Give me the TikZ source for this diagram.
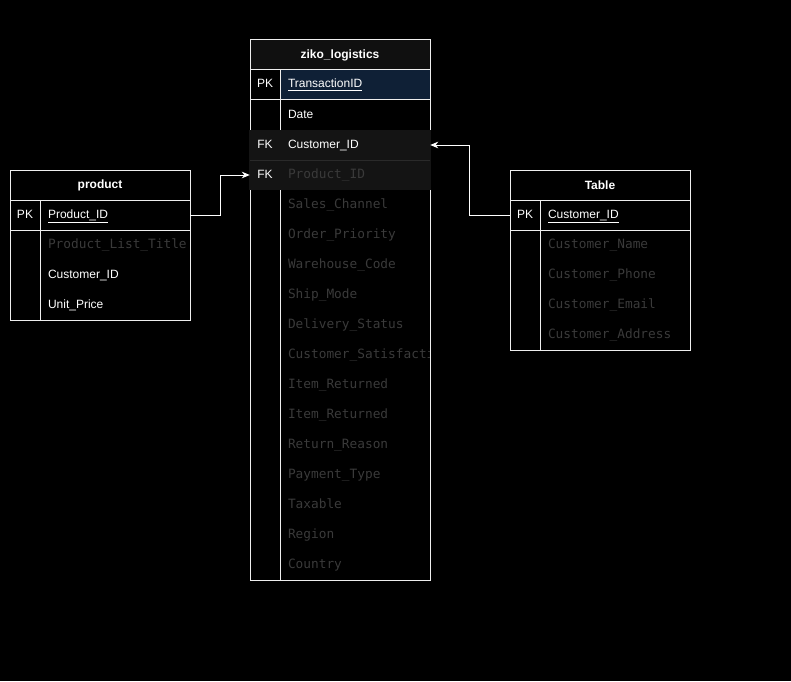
\documentclass[tikz,border=0pt]{standalone}
\usepackage{fontspec}
\setmainfont{Liberation Sans}
\newfontfamily\codefont{DejaVu Sans Mono}
\usetikzlibrary{arrows.meta}
\definecolor{linecol}{HTML}{EEEEEE}
\definecolor{dimtext}{HTML}{3A3A3A}
\definecolor{pkfill}{HTML}{0F2036}
\definecolor{fkfill}{HTML}{141414}
\definecolor{fkline}{HTML}{2A2A2A}
\definecolor{headfill}{HTML}{101010}
\tikzset{
  tbl/.style={draw=linecol, line width=0.75pt},
  hdr/.style={inner sep=0pt, font=\bfseries\fontsize{9pt}{11pt}\selectfont, text=white},
  keycell/.style={inner sep=0pt, minimum width=22.5pt, minimum height=22.5pt,
    text height=6.5pt, text depth=2pt,
    font=\fontsize{9pt}{11pt}\selectfont, text=white},
  fieldcell/.style={inner xsep=6pt, inner ysep=0pt, text width=100.5pt,
    minimum height=22.5pt, align=left, text=white,
    text height=6.5pt, text depth=2pt,
    font=\fontsize{9pt}{11pt}\selectfont},
  dimcell/.style={fieldcell, text=dimtext, font=\codefont\fontsize{9.6pt}{11pt}\selectfont},
  link/.style={draw=white, line width=0.75pt, -{Stealth[length=6pt,width=5pt]}},
}
\begin{document}
\begin{tikzpicture}[x=0.75pt,y=-0.75pt]
\fill[black] (0,0) rectangle (791,681);
\useasboundingbox (0,0) rectangle (791,681);

% ---------- ziko_logistics ----------
\fill[headfill] (250,40) rectangle (430,70);
\fill[pkfill] (280,70) rectangle (430,100);
\draw[tbl] (250,40) rectangle (430,580);
\draw[tbl] (250,70) -- (430,70) (250,100) -- (430,100) (280,70) -- (280,580);
\fill[fkfill] (249.4,130) rectangle (430.6,190);
\draw[fkline, line width=0.75pt] (250,160) -- (430,160);

\node[hdr] (mhead) at (340,55) {ziko\_logistics};
\node[keycell] (mk0) at (265,85) {PK};
\node[fieldcell] (mr0) at (355,85) {\underline{TransactionID}};
\node[fieldcell] (mr1) at (355,115) {Date};
\node[keycell] (mk2) at (265,145) {FK};
\node[fieldcell] (mr2) at (355,145) {Customer\_ID};
\node[keycell] (mk3) at (265,175) {FK};
\node[dimcell] (mr3) at (355,175) {Product\_ID};
\node[dimcell] (mr4) at (355,205) {Sales\_Channel};
\node[dimcell] (mr5) at (355,235) {Order\_Priority};
\node[dimcell] (mr6) at (355,265) {Warehouse\_Code};
\node[dimcell] (mr7) at (355,295) {Ship\_Mode};
\node[dimcell] (mr8) at (355,325) {Delivery\_Status};
\begin{scope}
  \clip (280,340) rectangle (429.6,370);
  \node[dimcell] (mr9) at (355,355) {Customer\_Satisfacti};
\end{scope}
\node[dimcell] (mr10) at (355,385) {Item\_Returned};
\node[dimcell] (mr11) at (355,415) {Item\_Returned};
\node[dimcell] (mr12) at (355,445) {Return\_Reason};
\node[dimcell] (mr13) at (355,475) {Payment\_Type};
\node[dimcell] (mr14) at (355,505) {Taxable};
\node[dimcell] (mr15) at (355,535) {Region};
\node[dimcell] (mr16) at (355,565) {Country};

% ---------- product ----------
\draw[tbl] (10,170) rectangle (190,320);
\draw[tbl] (10,200) -- (190,200) (10,230) -- (190,230) (40,200) -- (40,320);
\node[hdr] (phead) at (100,185) {product};
\node[keycell] (pk0) at (25,215) {PK};
\node[fieldcell] (pr0) at (115,215) {\underline{Product\_ID}};
\node[dimcell] (pr1) at (115,245) {Product\_List\_Title};
\node[fieldcell] (pr2) at (115,275) {Customer\_ID};
\node[fieldcell] (pr3) at (115,305) {Unit\_Price};

% ---------- Table ----------
\draw[tbl] (510,170) rectangle (690,350);
\draw[tbl] (510,200) -- (690,200) (510,230) -- (690,230) (540,200) -- (540,350);
\node[hdr] (thead) at (600,185) {Table};
\node[keycell] (tk0) at (525,215) {PK};
\node[fieldcell] (tr0) at (615,215) {\underline{Customer\_ID}};
\node[dimcell] (tr1) at (615,245) {Customer\_Name};
\node[dimcell] (tr2) at (615,275) {Customer\_Phone};
\node[dimcell] (tr3) at (615,305) {Customer\_Email};
\node[dimcell] (tr4) at (615,335) {Customer\_Address};

% ---------- relations ----------
\draw[link] (pr0.east) -- ++(30,0) |- (mk3.west);
\draw[link] (tk0.west) -- ++(-40,0) |- (mr2.east);
\end{tikzpicture}
\end{document}
